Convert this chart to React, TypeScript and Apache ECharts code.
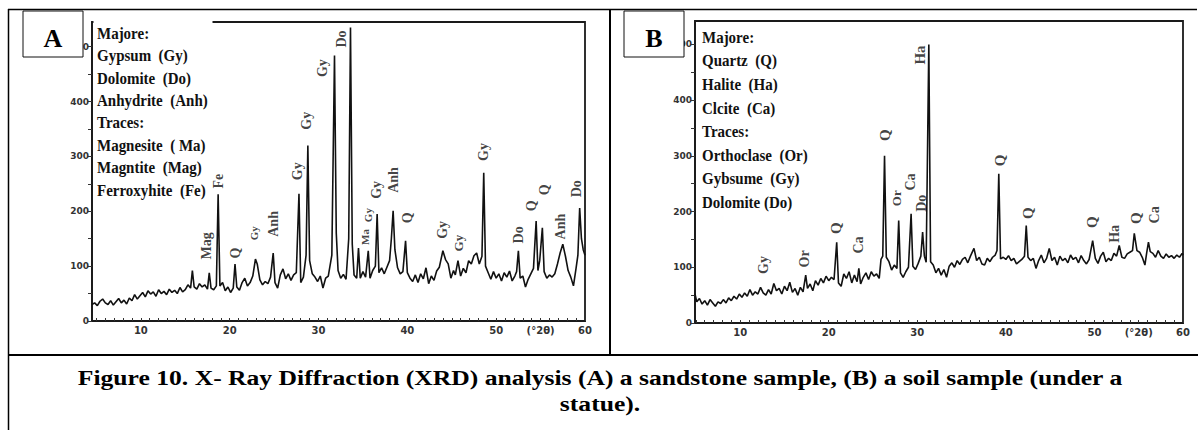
import React, { useEffect, useRef } from 'react';
import * as echarts from 'echarts';

// ---------- DATA ----------
// Panel A: sandstone sample, [2θ (deg), intensity (counts)]
const spectrumA: [number, number][] = [
  [4.5, 30], [4.8, 33], [5.1, 28], [5.4, 36], [5.7, 40], [6.0, 33], [6.3, 30], [6.6, 37], [6.9, 29], [7.2, 35],
  [7.5, 41], [7.8, 33], [8.1, 38], [8.4, 31], [8.7, 42], [9.0, 37], [9.3, 48], [9.6, 40], [9.9, 46], [10.2, 52],
  [10.5, 44], [10.8, 55], [11.1, 49], [11.4, 53], [11.7, 45], [12.0, 57], [12.3, 50], [12.6, 54], [12.9, 48], [13.2, 58],
  [13.5, 52], [13.8, 56], [14.1, 50], [14.4, 61], [14.7, 53], [15.0, 57], [15.3, 66], [15.6, 60], [15.8, 92], [16.0, 62],
  [16.3, 58], [16.6, 68], [16.9, 62], [17.2, 66], [17.5, 58], [17.7, 88], [17.9, 60], [18.2, 57], [18.5, 64], [18.7, 231],
  [18.9, 64], [19.2, 70], [19.5, 55], [19.8, 62], [20.1, 52], [20.4, 60], [20.6, 104], [20.8, 62], [21.1, 56], [21.4, 70],
  [21.7, 78], [22.0, 64], [22.3, 70], [22.6, 82], [22.9, 113], [23.1, 104], [23.4, 75], [23.7, 66], [24.0, 72], [24.3, 68],
  [24.6, 80], [24.9, 124], [25.1, 70], [25.4, 60], [25.7, 84], [26.0, 95], [26.3, 77], [26.6, 86], [26.9, 74], [27.2, 84],
  [27.5, 88], [27.8, 232], [28.0, 70], [28.3, 80], [28.6, 120], [28.8, 320], [29.0, 110], [29.3, 86], [29.6, 80], [29.9, 72],
  [30.2, 82], [30.5, 60], [30.8, 78], [31.1, 82], [31.5, 120], [31.8, 484], [32.0, 160], [32.2, 92], [32.5, 78], [32.8, 85],
  [33.1, 76], [33.4, 150], [33.6, 535], [33.8, 140], [34.0, 84], [34.3, 78], [34.5, 133], [34.7, 78], [35.0, 90], [35.3, 80],
  [35.6, 128], [35.8, 78], [36.1, 92], [36.4, 100], [36.6, 195], [36.8, 88], [37.1, 97], [37.4, 86], [37.7, 98], [38.0, 110],
  [38.2, 150], [38.4, 201], [38.6, 130], [38.9, 97], [39.2, 86], [39.5, 90], [39.8, 146], [40.0, 88], [40.3, 78], [40.6, 72],
  [40.9, 84], [41.2, 70], [41.5, 86], [41.8, 77], [42.1, 97], [42.4, 68], [42.7, 82], [43.0, 74], [43.3, 91], [43.6, 98],
  [44.0, 128], [44.3, 112], [44.6, 104], [44.9, 78], [45.2, 92], [45.4, 84], [45.7, 110], [46.0, 82], [46.3, 96], [46.6, 88],
  [46.9, 110], [47.2, 104], [47.5, 119], [47.8, 124], [48.1, 104], [48.4, 118], [48.6, 270], [48.8, 100], [49.1, 88], [49.4, 76],
  [49.7, 90], [50.0, 78], [50.3, 86], [50.6, 73], [50.9, 88], [51.2, 80], [51.5, 91], [51.8, 73], [52.1, 82], [52.3, 90],
  [52.5, 128], [52.7, 78], [53.0, 82], [53.3, 62], [53.6, 76], [53.9, 86], [54.2, 96], [54.5, 182], [54.7, 92], [54.9, 110],
  [55.2, 170], [55.4, 90], [55.7, 78], [56.0, 84], [56.3, 80], [56.6, 86], [56.9, 104], [57.2, 124], [57.5, 140], [57.8, 118],
  [58.1, 92], [58.4, 80], [58.7, 64], [59.0, 97], [59.2, 120], [59.4, 206], [59.6, 150], [59.8, 130], [60.0, 120],
];

// Panel B: soil sample under a statue
const spectrumB: [number, number][] = [
  [4.9, 52], [5.1, 38], [5.4, 44], [5.7, 34], [6.0, 40], [6.3, 32], [6.6, 42], [6.9, 36], [7.2, 30], [7.5, 38],
  [7.8, 35], [8.1, 42], [8.4, 36], [8.7, 45], [9.0, 40], [9.3, 48], [9.6, 43], [9.9, 52], [10.2, 46], [10.5, 54],
  [10.8, 48], [11.1, 60], [11.4, 50], [11.7, 56], [12.0, 52], [12.3, 64], [12.6, 54], [12.9, 50], [13.2, 60], [13.5, 52],
  [13.8, 71], [14.1, 58], [14.4, 62], [14.7, 52], [15.0, 66], [15.3, 58], [15.6, 73], [15.9, 55], [16.2, 62], [16.5, 50],
  [16.8, 64], [17.1, 56], [17.4, 86], [17.6, 62], [17.9, 70], [18.2, 58], [18.5, 76], [18.8, 68], [19.1, 80], [19.4, 72],
  [19.7, 84], [20.0, 76], [20.3, 82], [20.6, 78], [20.9, 145], [21.1, 72], [21.4, 66], [21.7, 88], [22.0, 80], [22.3, 92],
  [22.6, 72], [22.9, 86], [23.2, 74], [23.4, 98], [23.6, 70], [23.9, 82], [24.2, 90], [24.5, 78], [24.8, 92], [25.1, 84],
  [25.4, 88], [25.7, 80], [25.9, 114], [26.1, 120], [26.3, 300], [26.5, 118], [26.8, 110], [27.1, 95], [27.4, 104], [27.7, 98],
  [27.9, 184], [28.1, 90], [28.4, 82], [28.7, 92], [29.0, 100], [29.3, 196], [29.5, 102], [29.8, 96], [30.1, 107], [30.4, 120],
  [30.6, 163], [30.8, 120], [31.0, 109], [31.3, 500], [31.5, 110], [31.8, 104], [32.1, 90], [32.4, 98], [32.7, 86], [33.0, 96],
  [33.3, 82], [33.6, 102], [33.9, 108], [34.2, 100], [34.5, 112], [34.8, 105], [35.1, 114], [35.4, 118], [35.7, 108], [36.0, 120],
  [36.4, 134], [36.7, 112], [37.0, 118], [37.3, 106], [37.6, 104], [37.9, 116], [38.2, 110], [38.5, 118], [38.8, 122], [39.0, 130],
  [39.2, 268], [39.4, 115], [39.7, 118], [40.0, 114], [40.3, 121], [40.6, 112], [40.9, 116], [41.2, 106], [41.5, 110], [41.8, 114],
  [42.1, 120], [42.3, 175], [42.5, 118], [42.8, 112], [43.1, 116], [43.4, 98], [43.7, 112], [44.0, 122], [44.3, 108], [44.6, 116],
  [44.9, 134], [45.2, 112], [45.5, 118], [45.8, 104], [46.1, 120], [46.4, 112], [46.7, 116], [47.0, 108], [47.3, 122], [47.6, 114],
  [47.9, 118], [48.2, 108], [48.5, 121], [48.8, 112], [49.1, 106], [49.4, 114], [49.8, 148], [50.1, 116], [50.4, 107], [50.7, 120],
  [51.0, 127], [51.3, 110], [51.6, 116], [51.9, 112], [52.2, 125], [52.5, 120], [52.8, 139], [53.1, 118], [53.4, 116], [53.7, 124],
  [54.0, 127], [54.3, 130], [54.5, 161], [54.8, 130], [55.1, 127], [55.4, 118], [55.7, 104], [55.9, 126], [56.1, 145], [56.3, 128],
  [56.6, 125], [56.9, 118], [57.2, 130], [57.5, 120], [57.8, 116], [58.1, 124], [58.4, 118], [58.7, 121], [59.0, 116], [59.3, 122],
  [59.6, 118], [59.9, 125], [60.0, 122],
];

// Peak annotations: [label, 2θ, intensity at label centre, font size]
const peakLabelsA: [string, number, number, number][] = [
  ['Fe', 18.7, 255, 14], ['Mag', 17.4, 137, 14], ['Q', 20.6, 124, 14], ['Gy', 22.7, 160, 11],
  ['Anh', 24.9, 177, 14], ['Gy', 27.6, 273, 14], ['Gy', 28.6, 365, 14], ['Gy', 30.5, 461, 14],
  ['Do', 32.6, 514, 14], ['Ma', 35.2, 153, 11], ['Gy', 35.6, 193, 11], ['Gy', 36.5, 239, 14],
  ['Anh', 38.4, 257, 14], ['Q', 40.0, 188, 14], ['Gy', 44.0, 166, 14], ['Gy', 45.8, 142, 13],
  ['Gy', 48.6, 308, 14], ['Do', 52.5, 157, 14], ['Q', 54.0, 210, 14], ['Q', 55.4, 239, 14],
  ['Anh', 57.2, 172, 14], ['Do', 59.0, 241, 14],
];
const peakLabelsB: [string, number, number, number][] = [
  ['Gy', 12.6, 104, 14], ['Or', 17.3, 115, 14], ['Q', 20.8, 170, 15], ['Ca', 23.4, 140, 14],
  ['Q', 26.4, 337, 15], ['Or', 27.7, 224, 13], ['Ca', 29.2, 253, 14], ['Do', 30.5, 215, 14],
  ['Ha', 30.3, 481, 15], ['Q', 39.3, 292, 15], ['Q', 42.5, 197, 15], ['Q', 49.7, 181, 15],
  ['Ha', 52.3, 160, 14], ['Q', 54.7, 188, 15], ['Ca', 56.8, 194, 14],
];

const legendA = ['Majore:', 'Gypsum  (Gy)', 'Dolomite  (Do)', 'Anhydrite  (Anh)', 'Traces:', 'Magnesite  ( Ma)', 'Magntite  (Mag)', 'Ferroxyhite  (Fe)'];
const legendB = ['Majore:', 'Quartz  (Q)', 'Halite  (Ha)', 'Clcite  (Ca)', 'Traces:', 'Orthoclase  (Or)', 'Gybsume  (Gy)', 'Dolomite (Do)'];

const xLabelValues = [10, 20, 30, 40, 50, 60];
const xUnitLabel = '(°2θ)';
const xUnitAt = 55;
const yLabelValues = [0, 100, 200, 300, 400, 500];
const captionLines = [
  'Figure 10. X- Ray Diffraction (XRD) analysis (A) a sandstone sample, (B) a soil sample (under a',
  'statue).',
];

// ---------- LAYOUT / STYLE ----------
const SERIF = '"Liberation Serif", "Times New Roman", serif';
const INK = '#111';

function range(a: number, b: number, s: number) {
  const out: number[] = [];
  for (let v = a; v <= b + 1e-9; v += s) out.push(v);
  return out;
}

function makeX(gridIndex: number, min: number) {
  return {
    gridIndex,
    type: 'value',
    min,
    max: 60,
    axisLine: { show: true, onZero: false, lineStyle: { color: '#1a1a1a', width: 1.8 } },
    axisTick: { show: true, inside: true, length: 3, customValues: range(5, 60, 1), lineStyle: { color: '#333', width: 1 } },
    axisLabel: {
      show: true,
      customValues: [...xLabelValues, xUnitAt],
      formatter: (v: number) => (v === xUnitAt ? xUnitLabel : String(v)),
      margin: 4,
      fontSize: 10,
      fontWeight: 'bold',
      color: '#333',
      fontFamily: 'DejaVu Sans',
    },
    splitLine: { show: false },
  };
}
function makeY(gridIndex: number, max: number) {
  return {
    gridIndex,
    type: 'value',
    min: 0,
    max,
    axisLine: { show: true, lineStyle: { color: '#1a1a1a', width: 1.8 } },
    axisTick: { show: true, length: 4, customValues: range(0, 500, 50), lineStyle: { color: '#333', width: 1 } },
    axisLabel: {
      show: true,
      customValues: yLabelValues,
      margin: 3,
      fontSize: 9,
      fontWeight: 'bold',
      color: '#333',
      fontFamily: 'DejaVu Sans',
    },
    splitLine: { show: false },
  };
}

function labelSeries(idx: number, labels: [string, number, number, number][]) {
  return {
    type: 'scatter',
    xAxisIndex: idx,
    yAxisIndex: idx,
    symbolSize: 0,
    silent: true,
    z: 5,
    data: labels.map(([t, x, y, s]) => ({ value: [x, y], name: t, label: { fontSize: s } })),
    label: {
      show: true,
      position: 'inside',
      formatter: '{b}',
      rotate: 90,
      fontFamily: SERIF,
      fontWeight: 'bold',
      color: INK,
    },
  };
}

function legendText(lines: string[], x: number, y0: number, step: number) {
  return lines.map((t, i) => ({
    type: 'text',
    x,
    y: y0 + i * step,
    scaleY: 1.1,
    z: 101,
    style: { text: t, fontFamily: SERIF, fontWeight: 'bold', fontSize: 15, fill: INK, verticalAlign: 'middle' },
  }));
}

function hline(x1: number, x2: number, y: number, w: number) {
  return { type: 'line', z: 102, shape: { x1, y1: y, x2, y2: y }, style: { stroke: '#000', lineWidth: w } };
}
function vline(x: number, y1: number, y2: number, w: number) {
  return { type: 'line', z: 102, shape: { x1: x, y1, x2: x, y2 }, style: { stroke: '#000', lineWidth: w } };
}
function panelBox(x: number, letter: string) {
  return [
    { type: 'rect', z: 103, shape: { x, y: 11, width: 60, height: 46 }, style: { fill: '#fff', stroke: '#111', lineWidth: 1 } },
    {
      type: 'text', z: 104, x: x + 30, y: 38,
      style: { text: letter, fontFamily: SERIF, fontWeight: 'bold', fontSize: 26, fill: '#000', align: 'center', verticalAlign: 'middle' },
    },
  ];
}

export default function App() {
  const ref = useRef<HTMLDivElement>(null);
  useEffect(() => {
    if (!ref.current) return;
    const chart = echarts.init(ref.current, undefined, { renderer: 'svg' });
    const option: any = {
      animation: false,
      backgroundColor: '#fff',
      grid: [
        { left: 92, top: 22, width: 493, height: 299, show: true, borderColor: '#1a1a1a', borderWidth: 1.8, backgroundColor: 'transparent', outerBoundsMode: 'none' },
        { left: 695, top: 21, width: 488, height: 302, show: true, borderColor: '#1a1a1a', borderWidth: 1.8, backgroundColor: 'transparent', outerBoundsMode: 'none' },
      ],
      xAxis: [makeX(0, 4.5), makeX(1, 4.9)],
      yAxis: [makeY(0, 545), makeY(1, 542)],
      series: [
        { type: 'line', xAxisIndex: 0, yAxisIndex: 0, data: spectrumA, showSymbol: false, symbol: 'none', clip: true, lineStyle: { color: INK, width: 1.6 }, z: 3 },
        { type: 'line', xAxisIndex: 1, yAxisIndex: 1, data: spectrumB, showSymbol: false, symbol: 'none', clip: true, lineStyle: { color: INK, width: 1.6 }, z: 3 },
        labelSeries(0, peakLabelsA),
        labelSeries(1, peakLabelsB),
      ],
      graphic: [
        // hide the top frame segment behind panel A's mineral list
        { type: 'rect', z: 100, shape: { x: 93.5, y: 17, width: 119, height: 9 }, style: { fill: '#fff' } },
        ...legendText(legendA, 97, 33, 22.4),
        ...legendText(legendB, 702, 37, 23.6),
        ...panelBox(23, 'A'),
        ...panelBox(624, 'B'),
        hline(8, 1197, 9.5, 1.5),
        vline(8.5, 9, 430, 1.5),
        vline(610, 9, 355, 2),
        hline(8, 1198, 355, 2),
        ...captionLines.map((t, i) => ({
          type: 'text', z: 104, x: 600, y: 378 + i * 26, scaleX: 1.22,
          style: { text: t, fontFamily: SERIF, fontWeight: 'bold', fontSize: 21, fill: '#000', align: 'center', verticalAlign: 'middle' },
        })),
      ],
    };
    chart.setOption(option);
    return () => chart.dispose();
  }, []);
  return <div ref={ref} style={{ position: 'fixed', left: 0, top: 0, width: 1198, height: 430, background: '#fff' }} />;
}
